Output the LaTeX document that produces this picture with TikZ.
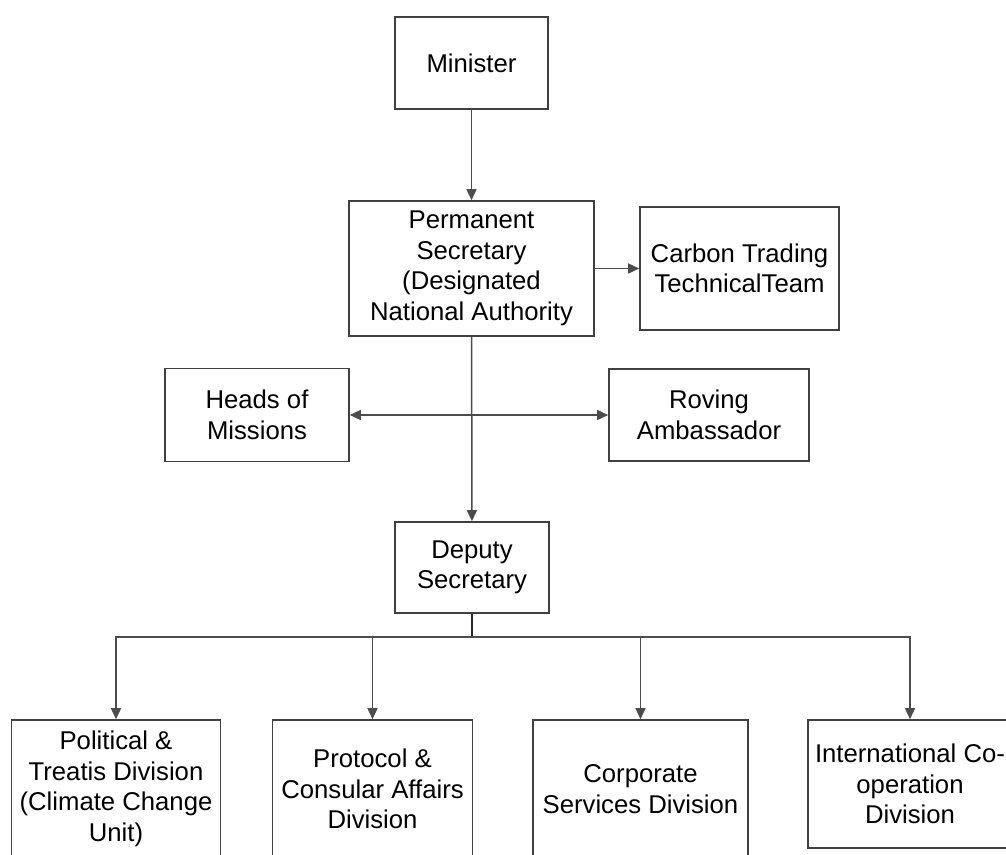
\documentclass[tikz,border=0pt]{standalone}
\usepackage{fontspec}
\setmainfont{Liberation Sans}
\usetikzlibrary{positioning}
\usetikzlibrary{arrows.meta}

\begin{document}
\begin{tikzpicture}[x=1pt,y=-1pt,
box/.style={draw=black!75, line width=1.6pt, align=center, inner sep=0pt,
  font=\fontsize{25.7}{30.5}\selectfont},
link/.style={draw=black!70, line width=1.5pt, -{Triangle[length=11pt,width=10pt]}},
twoway/.style={draw=black!70, line width=1.5pt, {Triangle[length=11pt,width=10pt]}-{Triangle[length=11pt,width=10pt]}},
plain/.style={draw=black!85, line width=1.6pt}]

\useasboundingbox (0,0) rectangle (1006,854);

%top of the chart
\node[box, minimum width=153pt, minimum height=92pt] (minister) at (471.5,63) {Minister};
\node[box, minimum width=245pt, minimum height=135pt] (perm) at (471.5,268.5)
{Permanent\\Secretary\\(Designated\\National Authority};
\node[box, minimum width=199pt, minimum height=123pt] (carbon) at (739.5,268.5)
{Carbon Trading\\TechnicalTeam};

%middle row
\node[box, minimum width=184pt, minimum height=93pt] (heads) at (257,415) {Heads of\\Missions};
\node[box, minimum width=200pt, minimum height=92pt] (roving) at (709,415) {Roving\\Ambassador};
\node[box, minimum width=154pt, minimum height=91pt] (deputy) at (472,567.5) {Deputy\\Secretary};

%divisions
\node[box, minimum width=209pt, minimum height=138pt] (political) at (116,789)
{Political \&\\Treatis Division\\(Climate Change\\Unit)};
\node[box, minimum width=200pt, minimum height=138pt] (protocol) at (372.5,789)
{Protocol \&\\Consular Affairs\\Division};
\node[box, minimum width=215pt, minimum height=138pt] (corporate) at (640.5,789)
{Corporate\\Services Division};
\node[box, minimum width=204pt, minimum height=128pt] (intl) at (910,784)
{International Co-\\operation\\Division};

\coordinate (bus) at (472,637);

%connectors
\draw[link] (minister) -- (perm);
\draw[link] (perm) -- (carbon);
\draw[link] (perm) -- (deputy);
\draw[twoway] (heads.east) -- (roving.west);
\draw[plain] (deputy) -- (bus);
\foreach \unit in {political,protocol,corporate,intl}
{
\draw[link] (bus) -| (\unit.north);
}

\end{tikzpicture}
\end{document}
